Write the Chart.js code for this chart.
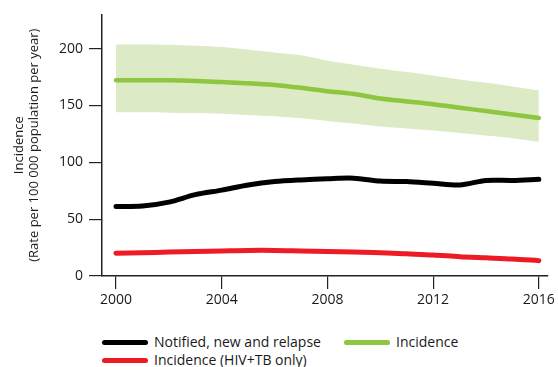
<!DOCTYPE html>
<html>
<head>
<meta charset="utf-8">
<script src="https://cdn.jsdelivr.net/npm/chart.js@4/dist/chart.umd.min.js"></script>
<style>
    body { margin: 0; background: #fff; font-family: 'Open Sans', sans-serif; }
    #wrap { position: relative; width: 558px; height: 367px; }
    #chart-box { position: absolute; left: 0; top: 0; width: 558px; height: 320px; }
    .legend-item { position: absolute; font-size: 14px; color: #1a1a1a; white-space: nowrap; line-height: 17px; }
    .legend-item span.swatch { display: inline-block; width: 46px; height: 5px; border-radius: 3px; vertical-align: middle; margin-right: 6px; position: relative; top: -1px; }
</style>
</head>
<body>
<div id="wrap">
    <div id="chart-box"><canvas id="tb-chart"></canvas></div>
    <div id="legend"></div>
</div>
<script>
const years = [2000, 2001, 2002, 2003, 2004, 2005, 2006, 2007, 2008, 2009, 2010, 2011, 2012, 2013, 2014, 2015, 2016];
const notified = [61, 61.5, 65, 71.5, 75.5, 80, 83, 84.5, 85.5, 86, 83.5, 83, 81.5, 80, 84, 84, 85];
const incidence = [172, 172, 172, 171.5, 170.5, 169.5, 168, 165.5, 162.5, 160, 156, 153.5, 151, 148, 145, 142, 139];
const incidenceHigh = [203.5, 203.5, 203.3, 202.5, 201.3, 199, 196.6, 194, 189.3, 185.8, 182.3, 179.4, 176.2, 172.7, 169.8, 166.6, 163];
const incidenceLow = [144, 144, 143.6, 143.3, 142.7, 141.6, 140.4, 138.7, 136.3, 134, 131.4, 129.6, 127.9, 125.8, 123.5, 121.2, 118];
const hivTb = [20, 20.5, 21, 21.5, 22, 22.5, 22.5, 22, 21.5, 21, 20.5, 19.5, 18.5, 17, 16, 15, 13.5];
const xTicks = [2000, 2004, 2008, 2012, 2016];
const yTicks = [0, 50, 100, 150, 200];

const toPoints = (arr) => years.map((yr, i) => ({ x: yr, y: arr[i] }));

const legendItems = [
    { label: 'Notified, new and relapse', color: '#000000', left: 102, top: 333 },
    { label: 'Incidence', color: '#8dc63f', left: 344, top: 333 },
    { label: 'Incidence (HIV+TB only)', color: '#ed1c24', left: 102, top: 351 },
];

function buildLegend() {
    const box = document.getElementById('legend');
    legendItems.forEach(item => {
        const el = document.createElement('div');
        el.className = 'legend-item';
        el.style.left = item.left + 'px';
        el.style.top = item.top + 'px';
        el.innerHTML = `<span class="swatch" style="background:${item.color}"></span>${item.label}`;
        box.appendChild(el);
    });
}

const lineStyle = {
    fill: false,
    pointRadius: 0,
    tension: 0.3,
    borderCapStyle: 'round',
    borderJoinStyle: 'round',
};

new Chart(document.getElementById('tb-chart'), {
    type: 'line',
    data: {
        datasets: [
            { ...lineStyle, label: 'Notified, new and relapse', data: toPoints(notified), borderColor: '#000000', borderWidth: 5 },
            { ...lineStyle, label: 'Incidence (HIV+TB only)', data: toPoints(hivTb), borderColor: '#ed1c24', borderWidth: 5 },
            { ...lineStyle, label: 'Incidence', data: toPoints(incidence), borderColor: '#8dc63f', borderWidth: 4.5 },
            { label: 'high', data: toPoints(incidenceHigh), borderWidth: 0, pointRadius: 0, tension: 0.3, fill: '+1', backgroundColor: '#dceac5' },
            { label: 'low', data: toPoints(incidenceLow), borderWidth: 0, pointRadius: 0, tension: 0.3, fill: false },
        ]
    },
    options: {
        responsive: true,
        maintainAspectRatio: false,
        animation: false,
        layout: { padding: { top: 13, right: 8, left: 12, bottom: 0 } },
        plugins: {
            legend: { display: false },
            tooltip: { enabled: false },
        },
        scales: {
            x: {
                type: 'linear',
                min: 1999.47,
                max: 2016.35,
                afterBuildTicks: (axis) => { axis.ticks = xTicks.map(v => ({ value: v })); },
                afterFit: (axis) => { axis.height = 44; },
                grid: { drawOnChartArea: false, drawTicks: true, tickLength: 13, color: '#222', lineWidth: 1.2 },
                border: { display: true, color: '#222', width: 1.5 },
                ticks: {
                    color: '#1a1a1a',
                    padding: 3,
                    font: { family: 'Open Sans', size: 14 },
                    callback: (v) => String(v),
                    maxRotation: 0,
                },
            },
            y: {
                min: 0,
                max: 230,
                afterBuildTicks: (axis) => { axis.ticks = yTicks.map(v => ({ value: v })); },
                afterFit: (axis) => { axis.width = 90; },
                grid: { drawOnChartArea: false, drawTicks: true, tickLength: 13, color: '#222', lineWidth: 1.2 },
                border: { display: true, color: '#222', width: 1.5 },
                ticks: {
                    color: '#1a1a1a',
                    padding: 6,
                    font: { family: 'Open Sans', size: 14 },
                },
                title: {
                    display: true,
                    text: ['Incidence', '(Rate per 100 000 population per year)'],
                    color: '#1a1a1a',
                    font: { family: 'Open Sans', size: 13, lineHeight: 1.15 },
                    padding: { top: 0, bottom: 0 },
                },
            },
        },
    },
});

buildLegend();
</script>
</body>
</html>
